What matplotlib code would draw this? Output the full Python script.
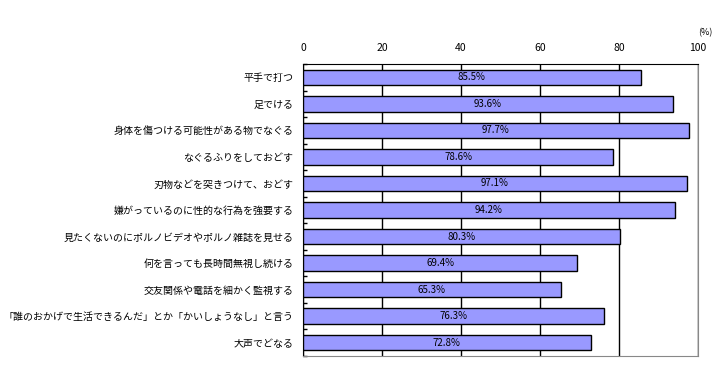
import matplotlib.pyplot as plt
import numpy as np

plt.rcParams['font.family'] = ['Noto Sans CJK JP', 'DejaVu Sans']

labels = ["平手で打つ", "足でける", "身体を傷つける可能性がある物でなぐる",
          "なぐるふりをしておどす", "刃物などを突きつけて、おどす",
          "嫌がっているのに性的な行為を強要する",
          "見たくないのにポルノビデオやポルノ雑誌を見せる",
          "何を言っても長時間無視し続ける", "交友関係や電話を細かく監視する",
          "「誰のおかげで生活できるんだ」とか「かいしょうなし」と言う",
          "大声でどなる"]
values = [85.5, 93.6, 97.7, 78.6, 97.1, 94.2, 80.3, 69.4, 65.3, 76.3, 72.8]
xticks = [0, 20, 40, 60, 80, 100]

fig = plt.figure(figsize=(7.24, 3.65), dpi=100)
ax = fig.add_axes([303/724, 1-356/365, 395/724, 292/365])

y = np.arange(len(labels))
ax.barh(y, values, height=0.58, color="#9999FF", edgecolor="black", linewidth=1, zorder=3)
for yi, v in zip(y, values):
    ax.text(v/2, yi, f"{v}%", ha="center", va="center", fontsize=7, zorder=4)

ax.set_xlim(0, 100)
ax.set_ylim(len(labels)-0.5, -0.5)
ax.set_xticks(xticks)
ax.xaxis.tick_top()
ax.tick_params(axis="x", length=0, labelsize=7.5, pad=8)
ax.set_yticks(y)
ax.set_yticklabels(labels, fontsize=7.2)
ax.tick_params(axis="y", length=0, pad=7)
# small ticks between categories
ax.set_yticks(np.arange(len(labels)+1)-0.5, minor=True)
ax.tick_params(axis="y", which="minor", direction="in", length=3, width=1)
ax.xaxis.grid(True, color="black", linewidth=1, zorder=0)
for s in ["left", "top"]:
    ax.spines[s].set_color("black")
for s in ["right", "bottom"]:
    ax.spines[s].set_color("#888888")
fig.text(705/724, 1-33/365, "(%)", ha="center", va="center", fontsize=6.5)

plt.savefig("out.png")
